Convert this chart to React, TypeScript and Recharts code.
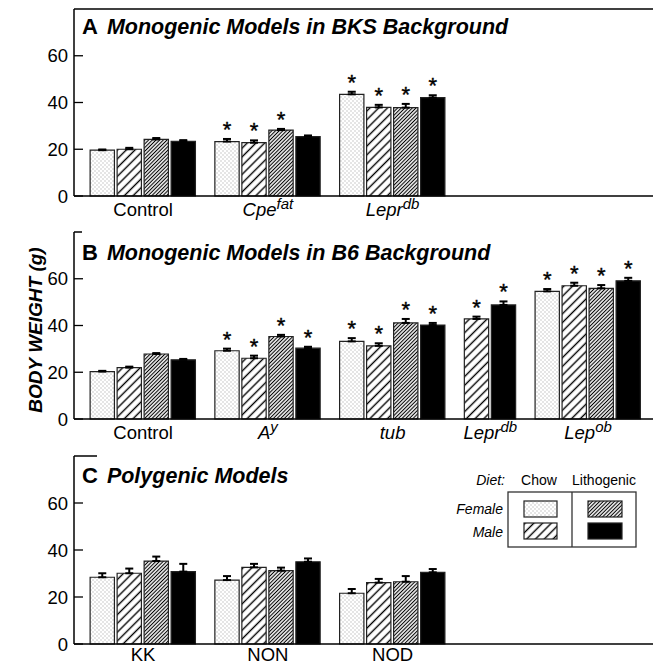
import React from 'react';
import { BarChart, Bar, XAxis, YAxis, Cell, ErrorBar, LabelList, ReferenceLine, Legend } from 'recharts';

const FONT = '"Liberation Sans", Arial, Helvetica, sans-serif';

// Panel A: monogenic models, BKS background
const bksCategories = ['Control', 'Cpe^fat', 'Lepr^db'];
const bksFemaleChow = [19.6, 23.3, 43.5];
const bksFemaleChowErr = [0.3, 1.1, 1.1];
const bksMaleChow = [20.0, 22.8, 37.9];
const bksMaleChowErr = [0.6, 1.0, 1.1];
const bksFemaleLitho = [24.2, 28.2, 37.8];
const bksFemaleLithoErr = [0.6, 0.5, 1.6];
const bksMaleLitho = [23.4, 25.4, 42.1];
const bksMaleLithoErr = [0.5, 0.5, 1.0];
const bksSignificant = [
  [false, false, false, false],
  [true, true, true, false],
  [true, true, true, true],
];

// Panel B: monogenic models, B6 background (no females for Lepr^db)
const b6Categories = ['Control', 'A^y', 'tub', 'Lepr^db', 'Lep^ob'];
const b6FemaleChow = [20.3, 29.2, 33.2, null, 54.6];
const b6FemaleChowErr = [0.3, 0.9, 1.4, null, 1.0];
const b6MaleChow = [22.0, 26.0, 31.3, 42.8, 57.0];
const b6MaleChowErr = [0.4, 1.1, 1.1, 1.0, 1.3];
const b6FemaleLitho = [27.8, 35.3, 41.1, null, 55.9];
const b6FemaleLithoErr = [0.4, 0.7, 1.7, null, 1.4];
const b6MaleLitho = [25.3, 30.3, 40.2, 48.8, 59.1];
const b6MaleLithoErr = [0.4, 0.6, 0.9, 1.5, 1.3];
const b6Significant = [
  [false, false, false, false],
  [true, true, true, true],
  [true, true, true, true],
  [true, true, true, true],
  [true, true, true, true],
];

// Panel C: polygenic models
const polyCategories = ['KK', 'NON', 'NOD'];
const polyFemaleChow = [28.4, 27.2, 21.6];
const polyFemaleChowErr = [1.7, 1.7, 1.8];
const polyMaleChow = [30.1, 32.6, 26.1];
const polyMaleChowErr = [2.0, 1.5, 1.6];
const polyFemaleLitho = [35.3, 31.2, 26.5];
const polyFemaleLithoErr = [1.9, 1.3, 2.4];
const polyMaleLitho = [30.8, 35.0, 30.5];
const polyMaleLithoErr = [3.3, 1.4, 1.4];
const polySignificant = [
  [false, false, false, false],
  [false, false, false, false],
  [false, false, false, false],
];

const yTicks = [0, 20, 40, 60];
const plainLabels = ['Control', 'KK', 'NON', 'NOD'];

// layout (x in bar-width units)
const UNIT = 27;
const PLOT_W = 579;
const X_MAX = PLOT_W / UNIT;
const START = 0.56;
const GAP = 0.62;

const FILLS = ['dots', 'wide', 'dense', 'solid'];

function buildPanel(categories, values, errors, significant) {
  const rows = [];
  const centers = [];
  let cursor = START;
  categories.forEach((_, ci) => {
    const first = cursor;
    values.forEach((series, si) => {
      const v = series[ci];
      if (v == null) return;
      const e = errors[si][ci];
      rows.push({ x: cursor + 0.5, v, e, err: [0, e], kind: si, sig: significant[ci][si] });
      cursor += 1;
    });
    centers.push((first + cursor) / 2);
    cursor += GAP;
  });
  return { rows, centers };
}

function Patterns({ prefix }) {
  return (
    <defs>
      <pattern id={`${prefix}-dots`} width={4} height={4} patternUnits="userSpaceOnUse">
        <rect width={4} height={4} fill="#fff" />
        <rect x={0.5} y={0.5} width={1} height={1} fill="#9a9a9a" />
        <rect x={2.5} y={2.5} width={1} height={1} fill="#9a9a9a" />
      </pattern>
      <pattern id={`${prefix}-wide`} width={6.2} height={6.2} patternUnits="userSpaceOnUse" patternTransform="rotate(45)">
        <rect width={6.2} height={6.2} fill="#fff" />
        <line x1={3.1} y1={0} x2={3.1} y2={6.2} stroke="#000" strokeWidth={1.4} />
      </pattern>
      <pattern id={`${prefix}-dense`} width={2.6} height={2.6} patternUnits="userSpaceOnUse" patternTransform="rotate(45)">
        <rect width={2.6} height={2.6} fill="#fff" />
        <line x1={1.3} y1={0} x2={1.3} y2={2.6} stroke="#000" strokeWidth={1.1} />
      </pattern>
    </defs>
  );
}

function fillFor(prefix, kind) {
  return FILLS[kind] === 'solid' ? '#000' : `url(#${prefix}-${FILLS[kind]})`;
}

function WeightTick({ x, y, payload }) {
  return (
    <g>
      <line x1={x + 6} x2={x + 15} y1={y} y2={y} stroke="#000" strokeWidth={1.3} />
      <text x={x} y={y} dy="0.355em" textAnchor="end" fontFamily={FONT} fontSize={18.5} fill="#000">
        {payload.value}
      </text>
    </g>
  );
}

function CategoryTick({ x, y, index, labels }) {
  const [base, sup] = labels[index].split('^');
  const italic = !plainLabels.includes(base);
  return (
    <text x={x} y={y} dy="0.71em" textAnchor="middle" fontFamily={FONT} fontSize={18.5} fill="#000"
      fontStyle={italic ? 'italic' : 'normal'}>
      <tspan>{base}</tspan>
      {sup && <tspan dy={-7} fontSize={15}>{sup}</tspan>}
    </text>
  );
}

function starContent(rows) {
  return (props) => {
    const vb = props.viewBox || props;
    const x = vb.x ?? props.x;
    const y = vb.y ?? props.y;
    const width = vb.width ?? props.width;
    const height = vb.height ?? props.height;
    const row = rows[props.index];
    if (!row || !row.sig) return null;
    const errPx = (row.e * height) / row.v;
    return (
      <text x={x + width / 2} y={y - errPx - 2} textAnchor="middle" fontFamily={FONT} fontSize={22}
        fill="#000" stroke="#000" strokeWidth={0.4}>
        *
      </text>
    );
  };
}

function DietLegend() {
  const t = { fontFamily: FONT, fontSize: 14, fill: '#000' };
  return (
    <svg width={220} height={86}>
      <Patterns prefix="lg" />
      <text x={85} y={19} textAnchor="end" fontStyle="italic" {...t}>Diet:</text>
      <text x={119} y={19} textAnchor="middle" {...t}>Chow</text>
      <text x={184} y={19} textAnchor="middle" {...t}>Lithogenic</text>
      <rect x={88} y={26} width={128} height={55} fill="none" stroke="#333" strokeWidth={1.3} />
      <line x1={152} x2={152} y1={26} y2={81} stroke="#333" strokeWidth={1.3} />
      <text x={83} y={48} textAnchor="end" fontStyle="italic" {...t}>Female</text>
      <text x={83} y={71} textAnchor="end" fontStyle="italic" {...t}>Male</text>
      <rect x={104} y={35} width={33} height={16} fill={fillFor('lg', 0)} stroke="#222" strokeWidth={1.2} />
      <rect x={104} y={57} width={33} height={16} fill={fillFor('lg', 1)} stroke="#222" strokeWidth={1.2} />
      <rect x={168} y={35} width={34} height={16} fill={fillFor('lg', 2)} stroke="#222" strokeWidth={1.2} />
      <rect x={168} y={57} width={34} height={16} fill={fillFor('lg', 3)} stroke="#222" strokeWidth={1.2} />
    </svg>
  );
}

function Panel({ id, top, height, xAxisHeight, tickGap, categories, values, errors, significant, topLineLength, legend }) {
  const { rows, centers } = buildPanel(categories, values, errors, significant);
  return (
    <div style={{ position: 'absolute', left: 0, top, width: 653, height }}>
      <BarChart width={653} height={height} data={rows} margin={{ top: 9, right: 0, left: 0, bottom: 0 }}
        barCategoryGap={0} barGap={0}>
        <Patterns prefix={id} />
        <XAxis type="number" dataKey="x" domain={[0, X_MAX]} ticks={centers} interval={0} height={xAxisHeight}
          allowDataOverflow tickLine={false} tickSize={0} tickMargin={tickGap}
          axisLine={{ stroke: '#000', strokeWidth: 1.5 }}
          tick={(p) => <CategoryTick {...p} labels={categories} />} />
        <YAxis type="number" domain={[0, 80]} ticks={yTicks} interval={0} width={74}
          tickLine={false} tickSize={0} tickMargin={6}
          axisLine={{ stroke: '#000', strokeWidth: 1.5 }}
          tick={(p) => <WeightTick {...p} />} />
        {topLineLength == null ? (
          <ReferenceLine y={80} stroke="#000" strokeWidth={1.5} ifOverflow="visible" />
        ) : (
          <ReferenceLine segment={[{ x: 0, y: 80 }, { x: topLineLength, y: 80 }]} stroke="#000" strokeWidth={1.5}
            ifOverflow="visible" />
        )}
        <Bar dataKey="v" barSize={UNIT} isAnimationActive={false} stroke="#222" strokeWidth={1.2}>
          {rows.map((r, i) => (
            <Cell key={i} fill={fillFor(id, r.kind)} />
          ))}
          <ErrorBar dataKey="err" direction="y" width={4} stroke="#000" strokeWidth={2} isAnimationActive={false} />
          <LabelList dataKey="v" content={starContent(rows)} />
        </Bar>
        {legend && (
          <Legend layout="horizontal" verticalAlign="middle" align="center"
            wrapperStyle={{ left: 420, top: 19, width: 220, height: 86 }}
            content={() => <DietLegend />} />
        )}
      </BarChart>
    </div>
  );
}

export default function App() {
  const titleText = { fontFamily: FONT, fill: '#000', fontWeight: 'bold' };
  return (
    <div style={{ position: 'absolute', left: 0, top: 0, width: 653, height: 666, background: '#fff', overflow: 'hidden' }}>
      <Panel id="bks" top={0} height={224} xAxisHeight={28} tickGap={7}
        categories={bksCategories}
        values={[bksFemaleChow, bksMaleChow, bksFemaleLitho, bksMaleLitho]}
        errors={[bksFemaleChowErr, bksMaleChowErr, bksFemaleLithoErr, bksMaleLithoErr]}
        significant={bksSignificant} />
      <Panel id="b6" top={223} height={224} xAxisHeight={28} tickGap={7} topLineLength={8 / UNIT}
        categories={b6Categories}
        values={[b6FemaleChow, b6MaleChow, b6FemaleLitho, b6MaleLitho]}
        errors={[b6FemaleChowErr, b6MaleChowErr, b6FemaleLithoErr, b6MaleLithoErr]}
        significant={b6Significant} />
      <Panel id="poly" top={447} height={219} xAxisHeight={22} tickGap={4} topLineLength={23 / UNIT} legend
        categories={polyCategories}
        values={[polyFemaleChow, polyMaleChow, polyFemaleLitho, polyMaleLitho]}
        errors={[polyFemaleChowErr, polyMaleChowErr, polyFemaleLithoErr, polyMaleLithoErr]}
        significant={polySignificant} />
      <svg width={653} height={666} style={{ position: 'absolute', left: 0, top: 0, pointerEvents: 'none' }}>
        <text x={82} y={34} {...titleText}>
          <tspan fontSize={22}>A</tspan>
          <tspan dx={9} fontSize={21.5} fontStyle="italic">Monogenic Models in BKS Background</tspan>
        </text>
        <text x={82} y={260} {...titleText}>
          <tspan fontSize={22}>B</tspan>
          <tspan dx={9} fontSize={21.5} fontStyle="italic">Monogenic Models in B6 Background</tspan>
        </text>
        <text x={82} y={483} {...titleText}>
          <tspan fontSize={22}>C</tspan>
          <tspan dx={9} fontSize={21.5} fontStyle="italic">Polygenic Models</tspan>
        </text>
        <text transform="translate(35,330) rotate(-90)" textAnchor="middle" dominantBaseline="central"
          fontFamily={FONT} fontSize={19} fontWeight="bold" fontStyle="italic" fill="#000">
          BODY WEIGHT (g)
        </text>
      </svg>
    </div>
  );
}
